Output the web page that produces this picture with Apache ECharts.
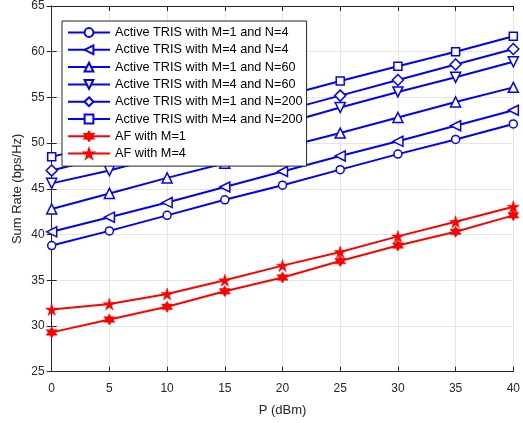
<!DOCTYPE html>
<html><head><meta charset="utf-8">
<script src="https://cdn.jsdelivr.net/npm/echarts@6/dist/echarts.min.js"></script>
<style>html,body{margin:0;padding:0;background:#fff}#c{width:523px;height:423px}</style>
</head><body><div id="c"></div>
<script>
const xVals = [0, 5, 10, 15, 20, 25, 30, 35, 40];
const yTicks = [25, 30, 35, 40, 45, 50, 55, 60, 65];
const names = [
  'Active TRIS with M=1 and N=4',
  'Active TRIS with M=4 and N=4',
  'Active TRIS with M=1 and N=60',
  'Active TRIS with M=4 and N=60',
  'Active TRIS with M=1 and N=200',
  'Active TRIS with M=4 and N=200',
  'AF with M=1',
  'AF with M=4'
];
const tris_M1_N4   = [38.8, 40.4, 42.1, 43.8, 45.4, 47.1, 48.8, 50.4, 52.1];
const tris_M4_N4   = [40.3, 41.9, 43.5, 45.2, 46.9, 48.6, 50.2, 51.9, 53.6];
const tris_M1_N60  = [42.8, 44.5, 46.2, 47.8, 49.5, 51.1, 52.8, 54.5, 56.1];
const tris_M4_N60  = [45.6, 47.0, 48.7, 50.4, 52.1, 53.9, 55.6, 57.2, 58.9];
const tris_M1_N200 = [47.0, 48.6, 50.2, 51.9, 53.5, 55.2, 56.9, 58.6, 60.3];
const tris_M4_N200 = [48.5, 50.1, 51.8, 53.5, 55.1, 56.8, 58.4, 60.0, 61.7];
const af_M1 = [29.3, 30.7, 32.1, 33.8, 35.3, 37.1, 38.8, 40.3, 42.1];
const af_M4 = [31.8, 32.4, 33.5, 35.0, 36.6, 38.1, 39.8, 41.4, 43.05];

const hexagram = 'path://M0,-10 L2.9,-5 L8.66,-5 L5.8,0 L8.66,5 L2.9,5 L0,10 L-2.9,5 L-8.66,5 L-5.8,0 L-8.66,-5 L-2.9,-5 Z';
const pentagram = 'path://M0,-10 L2.245,-3.09 L9.51,-3.09 L3.633,1.18 L5.88,8.09 L0,3.82 L-5.88,8.09 L-3.633,1.18 L-9.51,-3.09 L-2.245,-3.09 Z';

const BLUE = '#0000ff', RED = '#ff0000', AX = '#262626', FONT = 'Liberation Sans';
const pairs = a => a.map((v, i) => [xVals[i], v]);

function blueSeries(name, data, symbol, rot, size) {
  return {
    name, type: 'line', data: pairs(data), symbol, symbolSize: size, symbolRotate: rot,
    showSymbol: true, showAllSymbol: true,
    lineStyle: { color: BLUE, width: 2, type: 'solid' },
    itemStyle: { color: '#ffffff', borderColor: BLUE, borderWidth: 1.5, borderType: 'solid' },
    emphasis: { disabled: true }, animation: false, z: 3
  };
}
function redSeries(name, data, symbol, size) {
  return {
    name, type: 'line', data: pairs(data), symbol, symbolSize: size,
    lineStyle: { color: RED, width: 2, type: 'solid' },
    itemStyle: { color: RED, borderColor: RED, borderWidth: 0.5 },
    emphasis: { disabled: true }, animation: false, z: 3
  };
}

const chart = echarts.init(document.getElementById('c'));
const axisCommon = {
  type: 'value',
  axisLine: { show: true, lineStyle: { color: AX, width: 1 } },
  axisTick: { show: true, inside: true, length: 5, lineStyle: { color: AX } },
  axisLabel: { color: AX, fontFamily: FONT, fontSize: 12 },
  splitLine: { show: true, lineStyle: { color: '#e5e5e5', width: 1 } }
};
chart.setOption({
  animation: false,
  backgroundColor: '#fff',
  grid: { left: 51.7, right: 7, top: 6, bottom: 51.3, containLabel: false },
  xAxis: [
    Object.assign({}, axisCommon, {
      min: 0, max: 40, interval: 5,
      name: 'P (dBm)', nameLocation: 'middle', nameGap: 32,
      nameTextStyle: { color: AX, fontFamily: FONT, fontSize: 13 },
      axisLabel: { color: AX, fontFamily: FONT, fontSize: 12, margin: 11 }
    }),
    Object.assign({}, axisCommon, {
      position: 'top', min: 0, max: 40, interval: 5,
      axisLabel: { show: false }, splitLine: { show: false }
    })
  ],
  yAxis: [
    Object.assign({}, axisCommon, {
      min: yTicks[0], max: yTicks[yTicks.length - 1], interval: 5,
      name: 'Sum Rate (bps/Hz)', nameLocation: 'middle', nameGap: 28, nameMoveOverlap: false,
      nameTextStyle: { color: AX, fontFamily: FONT, fontSize: 13 },
      axisLabel: { color: AX, fontFamily: FONT, fontSize: 12, margin: 7 }
    }),
    Object.assign({}, axisCommon, {
      position: 'right', min: 25, max: 65, interval: 5,
      axisLabel: { show: false }, splitLine: { show: false }
    })
  ],
  legend: {
    left: 62, top: 21, orient: 'vertical',
    padding: [5, 4, 6, 5], itemGap: 4.3, itemWidth: 42, itemHeight: 11,
    backgroundColor: '#fff', borderColor: AX, borderWidth: 1, borderRadius: 0,
    textStyle: { color: '#000', fontFamily: FONT, fontSize: 12.7 },
    data: names, selectedMode: false, z: 10
  },
  series: [
    blueSeries(names[0], tris_M1_N4, 'circle', 0, 8),
    blueSeries(names[1], tris_M4_N4, 'triangle', 90, 10),
    blueSeries(names[2], tris_M1_N60, 'triangle', 0, 10),
    blueSeries(names[3], tris_M4_N60, 'triangle', 180, 10),
    blueSeries(names[4], tris_M1_N200, 'diamond', 0, 11),
    blueSeries(names[5], tris_M4_N200, 'rect', 0, 8),
    redSeries(names[6], af_M1, hexagram, 11),
    redSeries(names[7], af_M4, pentagram, 12)
  ]
});
</script></body></html>
